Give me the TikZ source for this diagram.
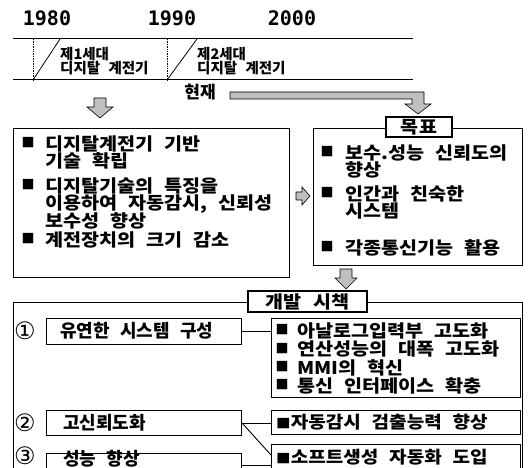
\documentclass[tikz,border=0pt]{standalone}
\usepackage{fontspec}
\setmainfont{Noto Sans CJK KR}[WordSpace=2.5]
\newfontfamily\krwide{Noto Sans CJK KR}[WordSpace=2.5, FakeStretch=1.12]
\newfontfamily\yearfont{DejaVu Sans Mono}
\newfontfamily\symfont{DejaVu Sans}
\usetikzlibrary{calc}
\begin{document}
\lineskiplimit=-50pt
\begin{tikzpicture}[x=1pt,y=-1pt,
  frame/.style={draw=black, line width=1.1pt, inner sep=0pt},
  titlebox/.style={draw=black, line width=1.1pt, fill=white, inner sep=0pt, font=\krwide\bfseries\fontsize{17.5}{17.5}\selectfont},
  boxtext/.style={font=\krwide\bfseries\fontsize{17.5}{17.3}\selectfont, inner sep=0pt, align=left, anchor=north west},
  itemtext/.style={font=\bfseries\fontsize{18}{18}\selectfont, inner sep=0pt, anchor=west},
  wideitem/.style={font=\krwide\bfseries\fontsize{17}{17}\selectfont, inner sep=0pt, anchor=west},
  listtext/.style={font=\krwide\bfseries\fontsize{17.5}{18.4}\selectfont, inner sep=0pt, align=left, anchor=north west},
  bul/.style={font=\fontsize{13}{13}\selectfont, inner sep=0pt},
  num/.style={font=\symfont\fontsize{24}{24}\selectfont, inner sep=0pt},
  year/.style={font=\yearfont\bfseries\fontsize{20}{20}\selectfont, inner sep=0pt},
  gen/.style={font=\bfseries\fontsize{14.5}{14}\selectfont, inner sep=0pt, align=left, anchor=north west},
  blockarrow/.style={draw=black, line width=0.6pt, fill=gray!50},
  tline/.style={line width=1pt},
  link/.style={line width=0.9pt}
]
\clip (0,0) rectangle (528,468);
\fill[white] (0,0) rectangle (528,468);

% years
\node[year] (y1980) at (47,18) {1980};
\node[year] (y1990) at (172,18) {1990};
\node[year] (y2000) at (292,18) {2000};

% timeline
\coordinate (tl) at (13,39);
\coordinate (tr) at (413,39);
\coordinate (bl) at (13,80);
\coordinate (br) at (413,80);
\draw[tline] (tl) -- (tr);
\draw[tline] (bl) -- (br);
\draw[densely dotted, line width=0.7pt] (33,39) -- (33,80);
\draw[densely dotted, line width=0.7pt] (167,39) -- (167,80);
\draw[line width=0.8pt] (33,80) -- (60,39);
\draw[line width=0.8pt] (167,80) -- (197,39);
\node[gen] (g1) at (60,47.5) {제1세대\\디지탈 계전기};
\node[gen] (g2) at (197,47.5) {제2세대\\디지탈 계전기};

\node[font=\bfseries\fontsize{17}{17}\selectfont, inner sep=0pt] (now) at (200,92) {현재};

% block arrows
\draw[blockarrow] (230,92) -- (424,92) -- (424,104) -- (431,104) -- (418,114) -- (405,104) -- (412,104) -- (412,99) -- (230,99) -- cycle;
\draw[blockarrow] (94,98) -- (106,98) -- (106,107) -- (113,107) -- (100,118) -- (87,107) -- (94,107) -- cycle;
\draw[blockarrow] (296,192) -- (302,192) -- (302,187) -- (310,196) -- (302,205) -- (302,200) -- (296,200) -- cycle;
\draw[blockarrow] (340,269) -- (352,269) -- (352,278) -- (357,278) -- (346,289) -- (335,278) -- (340,278) -- cycle;

% left box
\node[frame, anchor=north west, minimum width=276pt, minimum height=149pt] (lbox) at (13,128) {};
\node[bul] (lb1) at (28,143) {■};
\node[boxtext] (lt1) at (45,135.5) {디지탈계전기 기반\\기술 확립};
\node[bul] (lb2) at (28,185) {■};
\node[boxtext] (lt2) at (45,177.5) {디지탈기술의 특징을\\이용하여 자동감시, 신뢰성\\보수성 향상};
\node[bul] (lb3) at (28,239) {■};
\node[boxtext] (lt3) at (45,231.5) {계전장치의 크기 감소};

% right box
\node[frame, anchor=north west, minimum width=209pt, minimum height=137pt] (rbox) at (313,128) {};
\node[titlebox, minimum width=66pt, minimum height=20pt] (goal) at (419,127) {목표};
\node[bul] (rb1) at (327,152) {■};
\node[boxtext] (rt1) at (345,144.5) {보수.성능 신뢰도의\\향상};
\node[bul] (rb2) at (327,193) {■};
\node[boxtext] (rt2) at (345,185.5) {인간과 친숙한\\시스템};
\node[bul] (rb3) at (327,247) {■};
\node[boxtext] (rt3) at (345,239.5) {각종통신기능 활용};

% bottom box
\node[frame, anchor=north west, minimum width=509pt, minimum height=190pt] (bbox) at (13,302) {};
\node[titlebox, minimum width=119pt, minimum height=21pt] (dev) at (307.5,301.5) {개발 시책};

\node[num] (n1) at (25,331) {①};
\node[num] (n2) at (25,423) {②};
\node[num] (n3) at (25,456) {③};

\node[frame, anchor=north west, minimum width=195pt, minimum height=26pt] (b1) at (46,318) {};
\node[itemtext] (b1t) at (60,331) {유연한 시스템 구성};
\node[frame, anchor=north west, minimum width=195pt, minimum height=25pt] (b2) at (46,410) {};
\node[itemtext] (b2t) at (63,422.5) {고신뢰도화};
\node[frame, anchor=north west, minimum width=195pt, minimum height=30pt] (b3) at (46,453) {};
\node[itemtext] (b3t) at (63,459) {성능 향상};

\node[frame, anchor=north west, minimum width=249pt, minimum height=79pt] (bA) at (271,318) {};
\node[bul] (bAb1) at (282,330) {■};
\node[bul] (bAb2) at (282,348.5) {■};
\node[bul] (bAb3) at (282,367) {■};
\node[bul] (bAb4) at (282,385) {■};
\node[listtext] (bAt) at (297,322.5) {아날로그입력부 고도화\\연산성능의 대폭 고도화\\MMI의 혁신\\통신 인터페이스 확충};

\node[frame, anchor=north west, minimum width=249pt, minimum height=24pt] (bB) at (271,410) {};
\node[wideitem] (bBt) at (276,422) {{\fontsize{13}{13}\selectfont ■}자동감시 검출능력 향상};
\node[frame, anchor=north west, minimum width=249pt, minimum height=32pt] (bC) at (271,444) {};
\node[wideitem] (bCt) at (276,457) {{\fontsize{13}{13}\selectfont ■}소프트생성 자동화 도입};

% connectors
\draw[link] (b1.east) -- (bA.west |- b1.east);
\draw[link] (b2.east) -- (bB.west |- b2.east);
\draw[link] (b2.east) -- ($(bC.north west)+(0,11)$);
\draw[link] ($(b3.north east)+(0,12)$) -- ($(bC.north west)+(0,21)$);
\end{tikzpicture}
\end{document}
